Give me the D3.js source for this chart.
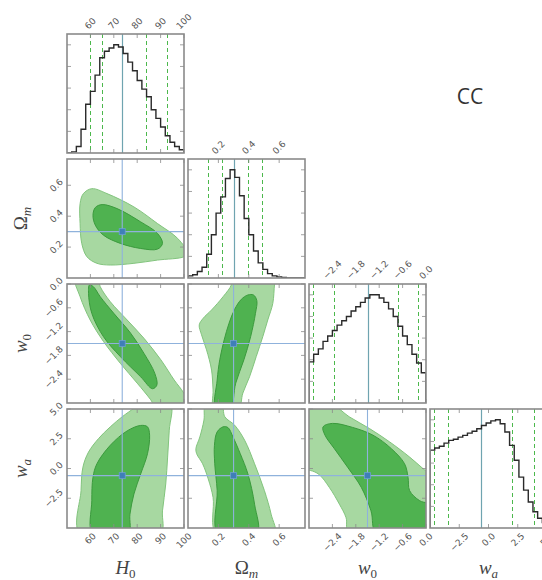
<!DOCTYPE html>
<html>
<head>
<meta charset="utf-8">
<script src="https://cdn.jsdelivr.net/npm/d3@7"></script>
<style>
  body { margin: 0; background: #fff; }
  .tl { font-family: "DejaVu Sans", sans-serif; font-size: 9px; fill: #555; }
  .title { font-family: "Liberation Serif", "DejaVu Serif", serif; font-size: 19px; fill: #444; }
</style>
</head>
<body>
<svg id="chart" width="542" height="580"></svg>
<script>
// Parameter ranges, reference values and tick labels
const paramRanges = [[50, 100], [0, 0.77], [-3, 0], [-5, 5]];
const bestFit = [73.6, 0.30, -1.5, -0.6];
const tickValues = [
  [60, 70, 80, 90, 100],
  [0.2, 0.4, 0.6],
  [-2.4, -1.8, -1.2, -0.6, 0.0],
  [-2.5, 0.0, 2.5, 5.0]
];
const tickFormats = [d3.format("d"), d3.format(".1f"), d3.format(".1f"), d3.format(".1f")];

// Quantile markers (2.5%, 16%, 84%, 97.5%) for each parameter
const quantilesH0 = [59.9, 65.1, 83.6, 92.7];
const quantilesOm = [0.13, 0.224, 0.394, 0.486];
const quantilesW0 = [-2.9, -2.35, -0.73, -0.2];
const quantilesWa = [-4.7, -3.5, 2.04, 3.9];

// Marginal histograms (25 equal bins across each range, normalised to peak)
const histH0 = [0.00, 0.01, 0.06, 0.22, 0.45, 0.57, 0.72, 0.88, 0.94, 0.97, 1.00, 0.98, 0.92,
                0.84, 0.76, 0.67, 0.59, 0.52, 0.40, 0.32, 0.24, 0.16, 0.10, 0.06, 0.03];
const histOm = [0.02, 0.03, 0.06, 0.10, 0.22, 0.40, 0.60, 0.75, 0.92, 1.00, 0.93, 0.76, 0.55,
                0.40, 0.25, 0.14, 0.08, 0.04, 0.02, 0.01, 0.005, 0, 0, 0, 0];
const histW0 = [0.38, 0.45, 0.50, 0.57, 0.62, 0.67, 0.72, 0.76, 0.80, 0.85, 0.89, 0.93, 0.97,
                1.00, 1.00, 0.97, 0.93, 0.87, 0.80, 0.71, 0.62, 0.54, 0.45, 0.37, 0.28];
const histWa = [0.72, 0.74, 0.755, 0.785, 0.81, 0.82, 0.84, 0.856, 0.877, 0.895, 0.917, 0.948, 0.97,
                0.99, 1.00, 0.963, 0.887, 0.764, 0.626, 0.47, 0.35, 0.24, 0.15, 0.09, 0.05];

// 68% (inner) and 95% (outer) credible contours, as [x, y] pairs in parameter units
const omH0Outer = [[55.6,0.482],[57.0,0.546],[60.6,0.578],[67.1,0.546],[78.6,0.46],[88.7,0.352],
  [97.3,0.256],[101.5,0.16],[100.1,0.138],[88.7,0.116],[78.6,0.095],[68.5,0.084],[62.8,0.095],
  [58.5,0.138],[56.3,0.224],[55.6,0.352]];
const omH0Inner = [[61.1,0.406],[62.1,0.456],[65.0,0.475],[71.4,0.449],[81.5,0.363],[88.7,0.288],
  [90.8,0.224],[88.7,0.187],[81.5,0.191],[72.8,0.224],[65.6,0.277],[62.1,0.342]];

const w0H0Outer = [[53.4,0.185],[55.6,-0.32],[59.9,-0.907],[65.6,-1.45],[72.8,-2.0],[80.0,-2.5],
  [85.8,-2.92],[88.7,-3.17],[103,-3.17],[99.9,-2.75],[95.8,-2.42],[90.1,-1.91],[82.9,-1.37],
  [75.7,-0.907],[68.5,-0.446],[64.2,-0.068],[62.8,0.185]];
const w0H0Inner = [[59.6,-0.025],[59.2,-0.235],[60.6,-0.74],[65.6,-1.33],[72.8,-1.83],[81.5,-2.34],
  [86.5,-2.64],[88.4,-2.55],[87.5,-2.25],[82.9,-1.75],[77.2,-1.24],[70.0,-0.74],[64.2,-0.32],[61.3,-0.07]];

const waH0Outer = [[55.6,-5.53],[56.0,-1.86],[56.8,0.11],[59.2,1.38],[63.5,2.52],[68.5,3.5],
  [73.6,4.35],[78.6,5.06],[81.5,5.48],[94.1,5.48],[93.7,3.22],[93.0,0.96],[92.2,-1.3],
  [90.8,-3.56],[89.8,-5.53]];
const waH0Inner = [[61.1,-5.53],[60.6,-2.71],[61.1,-0.74],[62.8,0.4],[68.5,1.95],[75.7,3.16],
  [81.5,3.62],[84.4,3.5],[85.3,2.8],[84.4,1.24],[81.5,-0.45],[78.6,-2.14],[76.9,-3.84],[76.1,-5.53]];

const w0OmOuter = [[0.285,0.1],[0.285,-0.025],[0.231,-0.32],[0.155,-0.655],[0.1,-0.864],[0.074,-1.03],
  [0.089,-1.28],[0.122,-1.66],[0.155,-2.17],[0.165,-2.67],[0.172,-3.17],[0.329,-3.17],[0.361,-2.75],
  [0.405,-2.34],[0.449,-1.83],[0.492,-1.33],[0.525,-0.907],[0.558,-0.49],[0.569,-0.025],[0.573,0.1]];
const w0OmInner = [[0.394,-0.277],[0.351,-0.386],[0.307,-0.638],[0.27,-0.99],[0.238,-1.41],
  [0.209,-1.91],[0.192,-2.42],[0.183,-3.17],[0.275,-3.17],[0.314,-2.5],[0.368,-1.91],[0.412,-1.33],
  [0.444,-0.74],[0.453,-0.42],[0.431,-0.277]];

const waOmOuter = [[0.118,5.48],[0.105,4.07],[0.078,2.65],[0.052,1.67],[0.057,1.24],[0.096,0.4],
  [0.133,-0.87],[0.165,-2.43],[0.188,-5.53],[0.569,-5.53],[0.547,-3.84],[0.503,-1.86],[0.438,0.4],
  [0.373,2.37],[0.307,3.64],[0.242,4.35],[0.22,5.48]];
const waOmInner = [[0.231,3.5],[0.192,3.08],[0.174,1.95],[0.176,0.4],[0.192,-1.86],[0.198,-5.53],
  [0.453,-5.53],[0.438,-3.0],[0.394,-0.45],[0.344,1.24],[0.296,2.65],[0.263,3.44]];

const waW0Outer = [[-3.17,5.48],[-2.4,5.34],[-1.97,4.35],[-1.45,3.36],[-0.93,2.23],[-0.42,0.96],
  [-0.07,-0.03],[0.19,-0.74],[0.19,-5.53],[-1.97,-5.53],[-2.05,-4.13],[-2.22,-3.0],[-2.48,-1.58],
  [-2.74,-0.51],[-2.96,-0.17],[-3.17,-0.17]];
const waW0Inner = [[-2.64,3.5],[-2.4,3.79],[-1.88,3.45],[-1.36,2.8],[-0.89,1.67],[-0.55,0.4],
  [-0.46,-0.74],[-0.42,-1.86],[-0.16,-2.71],[0.19,-3.14],[0.19,-5.53],[-1.26,-5.53],[-1.41,-3.56],
  [-1.66,-1.58],[-2.01,0.11],[-2.35,1.67],[-2.59,2.8]];

const histograms = [histH0, histOm, histW0, histWa];
const quantiles = [quantilesH0, quantilesOm, quantilesW0, quantilesWa];
const contourPairs = {
  "1,0": [omH0Outer, omH0Inner],
  "2,0": [w0H0Outer, w0H0Inner],
  "3,0": [waH0Outer, waH0Inner],
  "2,1": [w0OmOuter, w0OmInner],
  "3,1": [waOmOuter, waOmInner],
  "3,2": [waW0Outer, waW0Inner]
};

// Layout
const colX0 = 67, colStep = 121, panelW = 117;
const rowY0 = 34, rowStep = 125, panelH = 119;
const nParams = paramRanges.length;

const svg = d3.select("#chart");
const defs = svg.append("defs");
defs.append("clipPath").attr("id", "panelClip")
  .append("rect").attr("width", panelW).attr("height", panelH);

const xScales = paramRanges.map(r => d3.scaleLinear().domain(r).range([0, panelW]));
const yScales = paramRanges.map(r => d3.scaleLinear().domain(r).range([panelH, 0]));

const colors = {
  outerFill: "#a7d8a1", outerEdge: "#82c47d",
  innerFill: "#4fb250", innerEdge: "#3b9a3d",
  cross: "#8fb2dc", marker: "#3f7fb8",
  histLine: "#2a2a2a", histTruth: "#6fa4b0", quant: "#4cb84c",
  frame: "#8a8a8a"
};

// snap a vertical line to the pixel grid so thin strokes stay crisp
const snap = v => Math.round(v) + 0.5;

function rotatedHalf(textSel) {
  const L = textSel.node().getComputedTextLength();
  return (L + 7) / (2 * Math.SQRT2);
}

function addBottomLabels(g, scale, vals, fmt, y) {
  vals.forEach(v => {
    const t = g.append("text").attr("class", "tl").text(fmt(v))
      .attr("text-anchor", "middle").attr("dominant-baseline", "central");
    const half = rotatedHalf(t);
    t.attr("transform", `translate(${scale(v)},${y + 4 + half}) rotate(-45)`);
  });
}
function addTopLabels(g, scale, vals, fmt) {
  vals.forEach(v => {
    const t = g.append("text").attr("class", "tl").text(fmt(v))
      .attr("text-anchor", "middle").attr("dominant-baseline", "central");
    const half = rotatedHalf(t);
    t.attr("transform", `translate(${scale(v)},${-4 - half}) rotate(-45)`);
  });
}
function addLeftLabels(g, scale, vals, fmt) {
  vals.forEach(v => {
    const t = g.append("text").attr("class", "tl").text(fmt(v))
      .attr("text-anchor", "middle").attr("dominant-baseline", "central");
    const half = rotatedHalf(t);
    t.attr("transform", `translate(${-3 - half},${scale(v)}) rotate(-45)`);
  });
}

function drawFrameTicks(g, xVals, xScale, yVals, yScale) {
  const tk = 4;
  const ticks = g.append("g").attr("stroke", colors.frame).attr("stroke-width", 0.8);
  xVals.forEach(v => {
    const x = xScale(v);
    ticks.append("line").attr("x1", x).attr("x2", x).attr("y1", panelH).attr("y2", panelH - tk);
    ticks.append("line").attr("x1", x).attr("x2", x).attr("y1", 0).attr("y2", tk);
  });
  yVals.forEach(v => {
    const y = yScale(v);
    ticks.append("line").attr("x1", 0).attr("x2", tk).attr("y1", y).attr("y2", y);
    ticks.append("line").attr("x1", panelW).attr("x2", panelW - tk).attr("y1", y).attr("y2", y);
  });
  g.append("rect").attr("width", panelW).attr("height", panelH)
    .attr("fill", "none").attr("stroke", colors.frame).attr("stroke-width", 1.6);
}

for (let r = 0; r < nParams; r++) {
  for (let c = 0; c <= r; c++) {
    const g = svg.append("g")
      .attr("transform", `translate(${colX0 + c * colStep},${rowY0 + r * rowStep})`);
    const xs = xScales[c];
    const body = g.append("g").attr("clip-path", "url(#panelClip)");

    if (r === c) {
      // Marginal histogram
      const hist = histograms[c];
      const [lo, hi] = paramRanges[c];
      const n = hist.length;
      const bw = (hi - lo) / n;
      const ys = d3.scaleLinear().domain([0, 1.1 * d3.max(hist)]).range([panelH, 0]);
      const pts = [[lo, 0]];
      hist.forEach((v, k) => { pts.push([lo + k * bw, v]); pts.push([lo + (k + 1) * bw, v]); });
      pts.push([hi, 0]);

      quantiles[c].forEach(q => {
        body.append("line").attr("x1", snap(xs(q))).attr("x2", snap(xs(q)))
          .attr("y1", 0).attr("y2", panelH)
          .attr("stroke", colors.quant).attr("stroke-width", 1).attr("stroke-dasharray", "4,3");
      });
      body.append("line").attr("x1", snap(xs(bestFit[c]))).attr("x2", snap(xs(bestFit[c])))
        .attr("y1", 0).attr("y2", panelH).attr("stroke", colors.histTruth).attr("stroke-width", 1.2);
      body.append("path").datum(pts)
        .attr("d", d3.line().x(d => xs(d[0])).y(d => ys(d[1])))
        .attr("fill", "none").attr("stroke", colors.histLine).attr("stroke-width", 1.4);

      drawFrameTicks(g, tickValues[c], xs, ys.ticks(7).filter(t => t > 0), ys);
      if (r < nParams - 1) addTopLabels(g, xs, tickValues[c], tickFormats[c]);
      else addBottomLabels(g, xs, tickValues[c], tickFormats[c], panelH);
    } else {
      // Joint 2-D credible regions
      const ys = yScales[r];
      const [outer, inner] = contourPairs[`${r},${c}`];
      const area = d3.line().x(d => xs(d[0])).y(d => ys(d[1]))
        .curve(d3.curveCatmullRomClosed.alpha(0.5));
      body.append("path").attr("d", area(outer))
        .attr("fill", colors.outerFill).attr("stroke", colors.outerEdge).attr("stroke-width", 1);
      body.append("path").attr("d", area(inner))
        .attr("fill", colors.innerFill).attr("stroke", colors.innerEdge).attr("stroke-width", 1);

      body.append("line").attr("x1", xs(bestFit[c])).attr("x2", xs(bestFit[c]))
        .attr("y1", 0).attr("y2", panelH).attr("stroke", colors.cross).attr("stroke-width", 1.1);
      body.append("line").attr("x1", 0).attr("x2", panelW)
        .attr("y1", ys(bestFit[r])).attr("y2", ys(bestFit[r]))
        .attr("stroke", colors.cross).attr("stroke-width", 1.1);
      body.append("rect")
        .attr("x", xs(bestFit[c]) - 3).attr("y", ys(bestFit[r]) - 3)
        .attr("width", 6).attr("height", 6)
        .attr("fill", colors.marker).attr("stroke", "#6d9fd0").attr("stroke-width", 0.8);

      drawFrameTicks(g, tickValues[c], xs, tickValues[r], ys);
      if (c === 0) addLeftLabels(g, ys, tickValues[r], tickFormats[r]);
      if (r === nParams - 1) addBottomLabels(g, xs, tickValues[c], tickFormats[c], panelH);
    }
  }
}

// Axis titles
function mathLabel(sel, base, sub, baseItalic, subItalic) {
  sel.append("tspan").text(base).attr("font-style", baseItalic ? "italic" : "normal");
  sel.append("tspan").text(sub).attr("font-style", subItalic ? "italic" : "normal")
    .attr("font-size", "13px").attr("dy", "4");
}
const titleParts = [["H", "0", true, false], ["Ω", "m", false, true], ["w", "0", true, false], ["w", "a", true, true]];

titleParts.forEach((p, i) => {
  const t = svg.append("text").attr("class", "title").attr("text-anchor", "middle")
    .attr("x", colX0 + i * colStep + panelW / 2).attr("y", 574);
  mathLabel(t, ...p);
});
titleParts.slice(1).forEach((p, i) => {
  const r = i + 1;
  const cy = rowY0 + r * rowStep + panelH / 2;
  const t = svg.append("text").attr("class", "title").attr("text-anchor", "middle")
    .attr("transform", `translate(27,${cy}) rotate(-90)`);
  mathLabel(t, ...p);
});

// Dataset label
svg.append("text").attr("x", 470).attr("y", 104).attr("text-anchor", "middle")
  .attr("font-family", "'Open Sans', 'Noto Sans', sans-serif").attr("font-size", "21px")
  .attr("fill", "#333").text("CC");
</script>
</body>
</html>
